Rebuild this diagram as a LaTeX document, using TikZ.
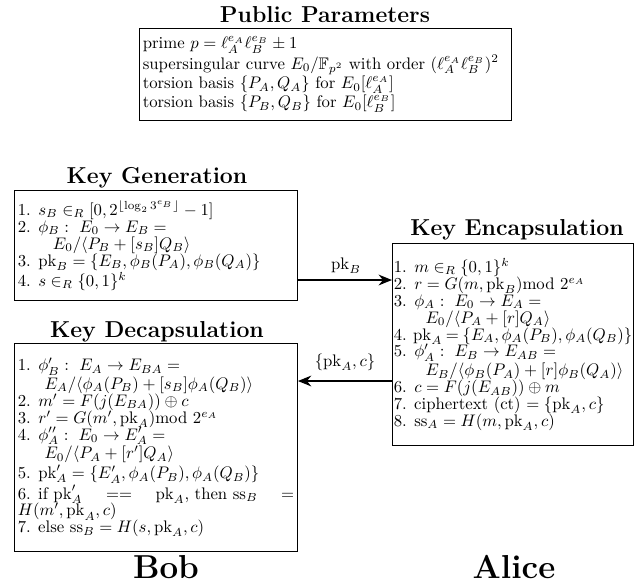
\documentclass[tikz,border=0pt]{standalone}
\usepackage{amsmath,amssymb}
\usetikzlibrary{arrows.meta,calc}
\begin{document}
\begin{tikzpicture}[x=0.75pt,y=-0.75pt,
  box/.style={draw, line width=0.55pt, scale=1.255, inner xsep=2pt, inner ysep=1.5pt, anchor=north west, align=justify, font=\fontsize{10}{10.1}\selectfont},
  ttl/.style={font=\LARGE\bfseries, inner sep=0pt, anchor=base},
  who/.style={font=\Huge\bfseries, inner sep=0pt, anchor=base},
  arr/.style={-{Stealth[length=10pt,width=8pt]}, line width=2.2pt},
  lbl/.style={font=\normalsize, scale=1.255, inner sep=0pt}]
\useasboundingbox (0,0) rectangle (641,583);
% public parameters
\node[ttl] (tpub) at (325,22) {Public Parameters};
\node[box, align=left, text width=218.3pt, minimum height=55pt] (pub) at (139,28) {%
prime $p=\ell_A^{e_A}\ell_B^{e_B}\pm 1$\\
supersingular curve $E_0/\mathbb{F}_{p^2}$ with order $(\ell_A^{e_A}\ell_B^{e_B})^2$\\
torsion basis $\{P_A,Q_A\}$ for $E_0[\ell_A^{e_A}]$\\
torsion basis $\{P_B,Q_B\}$ for $E_0[\ell_B^{e_B}]$};
% key generation
\node[ttl] (tgen) at (157,183) {Key Generation};
\node[box, text width=165.1pt, minimum height=65.7pt] (gen) at (14,190) {%
1. $s_B\in_R[0,2^{\lfloor\log_2 3^{e_B}\rfloor}-1]$\\
2. $\phi_B:\ E_0\rightarrow E_B=$\\
\hspace*{2.1em}$E_0/\langle P_B+[s_B]Q_B\rangle$\\
3. $\mathrm{pk}_B=\{E_B,\phi_B(P_A),\phi_B(Q_A)\}$\\
4. $s\in_R\{0,1\}^k$};
% key encapsulation
\node[ttl] (tenc) at (517,235) {Key Encapsulation};
\node[box, inner xsep=0.8pt, text width=142.4pt, minimum height=120.7pt] (enc) at (392,243) {%
1. $m\in_R\{0,1\}^k$\\
2. $r=G(m,\mathrm{pk}_B)\mathrm{mod}\ 2^{e_A}$\\
3. $\phi_A:\ E_0\rightarrow E_A=$\\
\hspace*{1.9em}$E_0/\langle P_A+[r]Q_A\rangle$\\
\mbox{4.\hspace{3.8pt}$\thickmuskip=4mu\mathrm{pk}_A=\{E_A,\phi_A(P_B),\phi_A(Q_B)\}$}\\
5. $\phi'_A:\ E_B\rightarrow E_{AB}=$\\
\hspace*{1.9em}$E_B/\langle\phi_B(P_A)+[r]\phi_B(Q_A)\rangle$\\
6. $c=F(j(E_{AB}))\oplus m$\\
7. ciphertext (ct) $=\{\mathrm{pk}_A,c\}$\\
8. $\mathrm{ss}_A=H(m,\mathrm{pk}_A,c)$};
% key decapsulation
\node[ttl] (tdec) at (157,337) {Key Decapsulation};
\node[box, text width=165.1pt, minimum height=124.3pt] (dec) at (14,343) {%
1. $\phi'_B:\ E_A\rightarrow E_{BA}=$\\
\hspace*{1.6em}$E_A/\langle\phi_A(P_B)+[s_B]\phi_A(Q_B)\rangle$\\
2. $m'=F(j(E_{BA}))\oplus c$\\
3. $r'=G(m',\mathrm{pk}_A)\mathrm{mod}\ 2^{e_A}$\\
4. $\phi''_A:\ E_0\rightarrow E'_A=$\\
\hspace*{1.6em}$E_0/\langle P_A+[r']Q_A\rangle$\\
5. $\mathrm{pk}'_A=\{E'_A,\phi_A(P_B),\phi_A(Q_B)\}$\\
6.\hspace{4.4pt}if\hspace{3.3pt}$\mathrm{pk}'_A==\mathrm{pk}_A$,\hspace{3.3pt}then\hspace{3.3pt}$\mathrm{ss}_B=$\linebreak $H(m',\mathrm{pk}_A,c)$\\
7. else $\mathrm{ss}_B=H(s,\mathrm{pk}_A,c)$};
% parties
\node[who] (bob) at (166,578) {Bob};
\node[who] (alice) at (514,578) {Alice};
% arrows
\coordinate (l1) at (0,280);
\coordinate (l2) at (0,381);
\draw[arr] (gen.east |- l1) -- (enc.west |- l1);
\draw[arr] (enc.west |- l2) -- (dec.east |- l2);
\node[lbl] (pkb) at (346,266) {$\mathrm{pk}_B$};
\node[lbl] (pkac) at (345,362) {$\{\mathrm{pk}_A,c\}$};
\end{tikzpicture}
\end{document}
